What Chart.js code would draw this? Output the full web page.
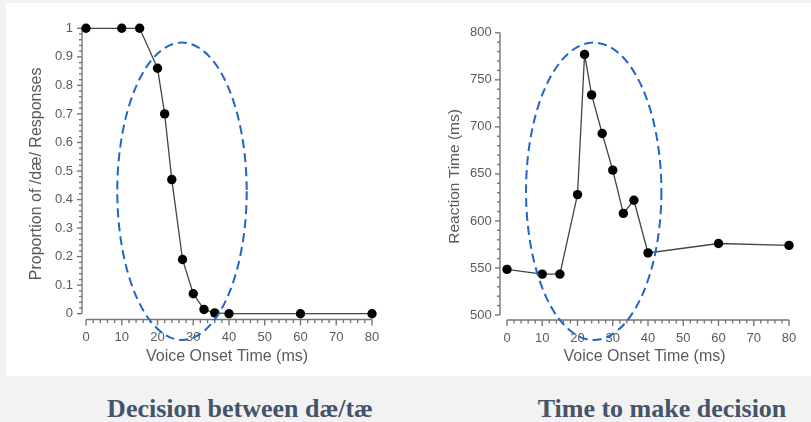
<!DOCTYPE html>
<html>
<head>
<meta charset="utf-8">
<script src="https://cdn.jsdelivr.net/npm/chart.js@4.4.1/dist/chart.umd.min.js"></script>
<style>
html, body { margin: 0; padding: 0; background: #f2f2f2; width: 811px; height: 422px; overflow: hidden; }
body { position: relative; }
#panel { position: absolute; left: 6px; top: 3px; width: 805px; height: 373px; background: #fff; }
canvas { position: absolute; top: 0; }
#c1 { left: 0; }
#c2 { left: 400px; }
.cap { position: absolute; top: 394px; width: 400px; text-align: center; white-space: nowrap;
       font: bold 26px/30px "Liberation Serif", "Times New Roman", serif; color: #44546a; }
</style>
</head>
<body>
<div id="panel"></div>
<canvas id="c1" width="400" height="376"></canvas>
<canvas id="c2" width="411" height="376"></canvas>
<div class="cap" style="left:40px">Decision between dæ/tæ</div>
<div class="cap" style="left:462px">Time to make decision</div>
<script>
// Données
const VOT = [0, 10, 15, 20, 22, 24, 27, 30, 33, 36, 40, 60, 80]
const PROP_DAE = [1, 1, 1, 0.86, 0.70, 0.47, 0.19, 0.07, 0.015, 0.003, 0, 0, 0]
const RT_MS = [548.5, 543.5, 543.5, 628, 777, 734, 693, 654, 608, 622, 566, 576, 574]

const X_TICKS = [0, 10, 20, 30, 40, 50, 60, 70, 80]
const PROP_TICKS = [0, 0.1, 0.2, 0.3, 0.4, 0.5, 0.6, 0.7, 0.8, 0.9, 1]
const RT_TICKS = [500, 550, 600, 650, 700, 750, 800]

const FONT = '"Liberation Sans", Arial, sans-serif'
const TEXT_COLOR = '#5a5a5a'
const AXIS_COLOR = '#777'

// -- axes façon Prism : lignes décalées + petites graduations --
const prismAxes = {
    id: 'prismAxes',
    beforeDatasetsDraw(chart, args, o) {
        const { ctx, chartArea, scales: { x, y } } = chart
        ctx.save()
        ctx.strokeStyle = AXIS_COLOR
        ctx.lineWidth = 1.4
        const seg = (x1, y1, x2, y2) => { ctx.beginPath(); ctx.moveTo(x1, y1); ctx.lineTo(x2, y2); ctx.stroke() }

        // axe Y
        const ax = chartArea.left
        seg(ax, y.getPixelForValue(o.yFrom), ax, y.getPixelForValue(o.yTo))
        const ny = Math.round((o.yTo - o.yFrom) / o.yMinor)
        const ey = Math.round(o.yMajor / o.yMinor)
        for (let i = 0; i <= ny; i++) {
            const py = y.getPixelForValue(o.yFrom + i * o.yMinor)
            seg(ax - (i % ey === 0 ? 5 : 3), py, ax, py)
        }

        // axe X
        const ay = chartArea.bottom
        seg(x.getPixelForValue(o.xFrom), ay, x.getPixelForValue(o.xTo), ay)
        const nx = Math.round((o.xTo - o.xFrom) / o.xMinor)
        const ex = Math.round(o.xMajor / o.xMinor)
        for (let i = 0; i <= nx; i++) {
            const px = x.getPixelForValue(o.xFrom + i * o.xMinor)
            seg(px, ay, px, ay + (i % ex === 0 ? 6 : 3.5))
        }
        ctx.restore()
    }
}

// -- ellipse pointillée bleue --
const ellipsePlugin = {
    id: 'ellipse',
    afterDatasetsDraw(chart, args, o) {
        const { ctx, scales: { x, y } } = chart
        const cx = x.getPixelForValue(o.cx)
        const cy = y.getPixelForValue(o.cy)
        const rx = Math.abs(x.getPixelForValue(o.cx + o.rx) - cx)
        const ry = Math.abs(y.getPixelForValue(o.cy + o.ry) - cy)
        ctx.save()
        ctx.strokeStyle = '#1f66c6'
        ctx.lineWidth = 2
        ctx.setLineDash([9, 5])
        ctx.beginPath()
        ctx.ellipse(cx, cy, rx, ry, 0, 0, Math.PI * 2)
        ctx.stroke()
        ctx.restore()
    }
}

function makeChart(id, values, c) {
    return new Chart(document.getElementById(id), {
        type: 'line',
        data: {
            datasets: [{
                data: VOT.map((v, i) => ({ x: v, y: values[i] })),
                borderColor: '#444',
                borderWidth: 1.3,
                pointRadius: 4.7,
                pointBackgroundColor: '#000',
                pointBorderWidth: 0,
                tension: 0,
                clip: false
            }]
        },
        options: {
            responsive: false,
            animation: false,
            events: [],
            layout: { padding: { left: 0, top: c.padTop, right: c.padRight, bottom: 0 } },
            plugins: {
                legend: { display: false },
                tooltip: { enabled: false },
                prismAxes: c.axes,
                ellipse: c.ellipse
            },
            scales: {
                x: {
                    type: 'linear',
                    min: c.xMin,
                    max: 80,
                    grid: { display: false, drawTicks: false },
                    border: { display: false },
                    afterBuildTicks: s => { s.ticks = X_TICKS.map(v => ({ value: v })) },
                    afterFit: s => { s.height = c.xAxisH },
                    ticks: { color: TEXT_COLOR, font: { family: FONT, size: 13 }, padding: 10.5, maxRotation: 0, autoSkip: false },
                    title: { display: true, text: 'Voice Onset Time (ms)', color: TEXT_COLOR,
                             font: { family: FONT, size: 16 }, padding: { top: 0, bottom: 9.4 } }
                },
                y: {
                    type: 'linear',
                    min: c.yMin,
                    max: c.yMax,
                    grid: { display: false, drawTicks: false },
                    border: { display: false },
                    afterBuildTicks: s => { s.ticks = c.yTicks.map(v => ({ value: v })) },
                    afterFit: s => { s.width = c.yAxisW },
                    ticks: { color: TEXT_COLOR, font: { family: FONT, size: 13 }, padding: c.yTickPad, autoSkip: false,
                             callback: v => String(v) },
                    title: { display: true, text: c.yTitle, color: TEXT_COLOR,
                             font: { family: FONT, size: c.yTitleSize }, padding: { top: c.yTitlePad, bottom: 0 } }
                }
            }
        },
        plugins: [prismAxes, ellipsePlugin]
    })
}

makeChart('c1', PROP_DAE, {
    padTop: 28.3, padRight: 28, xMin: -1.12, xAxisH: 56.5,
    yMin: -0.0203, yMax: 1, yTicks: PROP_TICKS, yAxisW: 82, yTickPad: 9,
    yTitle: 'Proportion of /dæ/ Responses', yTitleSize: 16, yTitlePad: 27.4,
    axes: { yFrom: 0, yTo: 1, yMajor: 0.1, yMinor: 0.02, xFrom: 0, xTo: 80, xMajor: 10, xMinor: 2 },
    ellipse: { cx: 26.85, cy: 0.429, rx: 18.1, ry: 0.521 }
})

makeChart('c2', RT_MS, {
    padTop: 32.8, padRight: 22, xMin: -1.99, xAxisH: 56,
    yMin: 494.7, yMax: 800, yTicks: RT_TICKS, yAxisW: 100, yTickPad: 8.3,
    yTitle: 'Reaction Time (ms)', yTitleSize: 15.5, yTitlePad: 45.7,
    axes: { yFrom: 500, yTo: 800, yMajor: 50, yMinor: 10, xFrom: 0, xTo: 80, xMajor: 10, xMinor: 2 },
    ellipse: { cx: 24.6, cy: 631.5, rx: 19.2, ry: 158.1 }
})
</script>
</body>
</html>
